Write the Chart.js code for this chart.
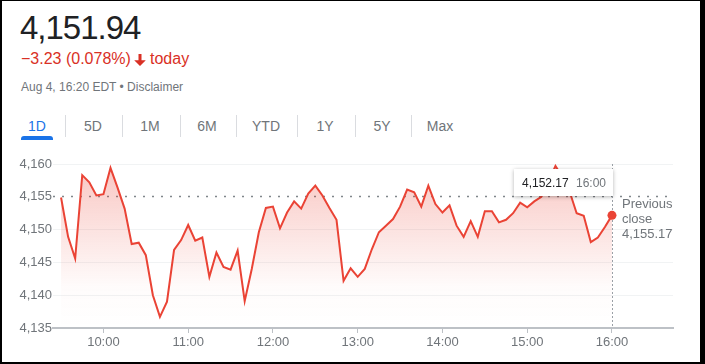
<!DOCTYPE html>
<html>
<head>
<meta charset="utf-8">
<script src="https://cdn.jsdelivr.net/npm/chart.js@4"></script>
<style>
  body { margin: 0; background: #fff; font-family: Arial, "Liberation Sans", sans-serif; }
  #frame { position: absolute; left: 0; top: 0; width: 705px; height: 364px; box-sizing: border-box;
           border: solid #000; border-width: 1px 5px 2px 2px; pointer-events: none; z-index: 5; }
  .abs { position: absolute; white-space: nowrap; line-height: 1; }
  #price { left: 20px; top: 11px; font-size: 33px; letter-spacing: -1px; color: #202124; }
  .chg { top: 51px; font-size: 16px; color: #d93025; }
  #stamp { left: 21px; top: 81px; font-size: 12px; color: #70757a; }
  .tab { position: absolute; top: 119px; font-size: 14px; line-height: 1; color: #70757a; transform: translateX(-50%); }
  .sep { position: absolute; top: 115px; width: 1px; height: 22px; background: #dadce0; }
  #underline { position: absolute; left: 21px; top: 136px; width: 32px; height: 4px; background: #1a73e8; border-radius: 3px 3px 0 0; }
  #chart { position: absolute; left: 0; top: 150px; }
</style>
</head>
<body>
<div id="frame"></div>

<div id="price" class="abs">4,151.94</div>
<div class="abs chg" style="left:21px">−3.23 (0.078%)</div>
<svg class="abs" style="left:134px;top:54px" width="12" height="12" viewBox="0 0 12 12">
  <path d="M4.5 0h3v6.2h4.3L6 12 0.2 6.2h4.3z" fill="#d93025"/>
</svg>
<div class="abs chg" style="left:150px">today</div>
<div id="stamp" class="abs">Aug 4, 16:20 EDT • Disclaimer</div>

<div class="tab" style="left:37px;color:#1a73e8">1D</div>
<div class="tab" style="left:93px">5D</div>
<div class="tab" style="left:150px">1M</div>
<div class="tab" style="left:207px">6M</div>
<div class="tab" style="left:266px">YTD</div>
<div class="tab" style="left:325px">1Y</div>
<div class="tab" style="left:382px">5Y</div>
<div class="tab" style="left:440px">Max</div>
<div class="sep" style="left:65px"></div>
<div class="sep" style="left:122px"></div>
<div class="sep" style="left:180px"></div>
<div class="sep" style="left:236px"></div>
<div class="sep" style="left:297px"></div>
<div class="sep" style="left:355px"></div>
<div class="sep" style="left:411px"></div>
<div id="underline"></div>

<canvas id="chart" width="700" height="212"></canvas>

<script>
// 5-minute closes for the session
const times = [
  "9:30", "9:35", "9:40", "9:45", "9:50", "9:55",
  "10:00", "10:05", "10:10", "10:15", "10:20", "10:25", "10:30", "10:35", "10:40", "10:45", "10:50", "10:55",
  "11:00", "11:05", "11:10", "11:15", "11:20", "11:25", "11:30", "11:35", "11:40", "11:45", "11:50", "11:55",
  "12:00", "12:05", "12:10", "12:15", "12:20", "12:25", "12:30", "12:35", "12:40", "12:45", "12:50", "12:55",
  "13:00", "13:05", "13:10", "13:15", "13:20", "13:25", "13:30", "13:35", "13:40", "13:45", "13:50", "13:55",
  "14:00", "14:05", "14:10", "14:15", "14:20", "14:25", "14:30", "14:35", "14:40", "14:45", "14:50", "14:55",
  "15:00", "15:05", "15:10", "15:15", "15:20", "15:25", "15:30", "15:35", "15:40", "15:45", "15:50", "15:55",
  "16:00"
];
const prices = [
  4154.9, 4148.9, 4145.6, 4158.3, 4157.2, 4155.2, 4155.4, 4159.4, 4156.4, 4153.2,
  4147.8, 4148.0, 4146.1, 4140.0, 4136.7, 4139.0, 4146.9, 4148.4, 4150.7, 4148.3,
  4148.8, 4142.8, 4146.5, 4144.3, 4143.9, 4146.8, 4139.1, 4144.0, 4149.6, 4153.3,
  4153.5, 4150.2, 4152.6, 4154.3, 4153.2, 4155.5, 4156.7, 4155.2, 4153.3, 4151.5,
  4142.2, 4144.1, 4142.8, 4144.0, 4147.0, 4149.6, 4150.6, 4151.6, 4153.5, 4156.1,
  4155.7, 4153.5, 4156.7, 4153.9, 4152.6, 4153.7, 4150.6, 4148.9, 4151.3, 4148.9,
  4152.8, 4152.8, 4151.1, 4151.5, 4152.5, 4154.1, 4153.4, 4154.3, 4155.0, 4157.3,
  4159.7, 4158.0, 4155.8, 4152.5, 4152.1, 4148.1, 4148.8, 4150.4, 4152.17
];
const prevClose = 4155.17;
const xTickLabels = ["10:00", "11:00", "12:00", "13:00", "14:00", "15:00", "16:00"];
const yTicks = [4135, 4140, 4145, 4150, 4155, 4160];

const RED = "#ea4335";

function toMin(t) {
  const [h, m] = t.split(":").map(Number);
  return h * 60 + m;
}
function fmtMin(v) {
  return Math.floor(v / 60) + ":" + String(v % 60).padStart(2, "0");
}

const points = times.map((t, i) => ({ x: toMin(t), y: prices[i] }));
const last = prices.length - 1;

// dotted previous-close line, 16:00 cursor, tooltip and label
const overlay = {
  id: "overlay",
  beforeDatasetsDraw(chart) {
    const { ctx, chartArea: a, scales: { y } } = chart;
    const yPc = Math.round(y.getPixelForValue(prevClose)) + 0.5;
    const pt = chart.getDatasetMeta(0).data[last];
    ctx.save();
    ctx.strokeStyle = "#80868b";
    ctx.lineWidth = 1.5;
    ctx.setLineDash([2, 7]);
    ctx.beginPath();
    ctx.moveTo(a.left, yPc);
    ctx.lineTo(a.right, yPc);
    ctx.stroke();

    const lx = Math.round(pt.x) + 0.5;
    ctx.strokeStyle = "#9aa0a6";
    ctx.lineWidth = 1;
    ctx.setLineDash([2, 2]);
    ctx.beginPath();
    ctx.moveTo(lx, a.top);
    ctx.lineTo(lx, a.bottom);
    ctx.stroke();
    ctx.restore();
  },
  afterDraw(chart) {
    const { ctx, chartArea: a, scales: { y } } = chart;
    const yPc = y.getPixelForValue(prevClose);
    const pt = chart.getDatasetMeta(0).data[last];
    ctx.save();
    ctx.font = "13px Arial, 'Liberation Sans', sans-serif";
    ctx.fillStyle = "#70757a";
    ctx.textBaseline = "alphabetic";
    ctx.fillText("Previous", pt.x + 10, yPc + 12);
    ctx.fillText("close", pt.x + 10, yPc + 27);
    ctx.fillText(prevClose.toLocaleString("en-US", { minimumFractionDigits: 2 }), pt.x + 10, yPc + 42);

    // tooltip box
    const bx = Math.round(pt.x) - 98, by = a.top + 5;
    ctx.shadowColor = "rgba(0,0,0,0.3)";
    ctx.shadowBlur = 4;
    ctx.shadowOffsetY = 1;
    ctx.fillStyle = "#fff";
    ctx.fillRect(bx, by, 99, 27);
    ctx.shadowColor = "transparent";
    ctx.font = "12px Arial, 'Liberation Sans', sans-serif";
    ctx.fillStyle = "#202124";
    ctx.fillText(prices[last].toLocaleString("en-US", { minimumFractionDigits: 2 }), bx + 8, by + 18);
    ctx.fillStyle = "#70757a";
    ctx.fillText(times[last], bx + 62, by + 18);
    ctx.restore();
  }
};

new Chart(document.getElementById("chart").getContext("2d"), {
  type: "line",
  data: {
    datasets: [
      {
        data: points,
        borderColor: RED,
        borderWidth: 2,
        tension: 0,
        fill: "start",
        backgroundColor: (c) => {
          const a = c.chart.chartArea;
          if (!a) return "rgba(234,67,53,0.2)";
          const g = c.chart.ctx.createLinearGradient(0, a.top, 0, a.bottom);
          g.addColorStop(0, "rgba(234,67,53,0.30)");
          g.addColorStop(0.75, "rgba(234,67,53,0.02)");
          g.addColorStop(1, "rgba(234,67,53,0)");
          return g;
        },
        pointRadius: (c) => (c.dataIndex === last ? 4.5 : 0),
        pointBackgroundColor: RED,
        pointBorderWidth: 0
      }
    ]
  },
  options: {
    responsive: false,
    animation: false,
    devicePixelRatio: 1,
    layout: { padding: { top: 14, right: 27, left: 0, bottom: 0 } },
    plugins: { legend: { display: false }, tooltip: { enabled: false } },
    scales: {
      x: {
        type: "linear",
        min: 564.3,
        max: 1003.2,
        afterBuildTicks: (s) => { s.ticks = xTickLabels.map((t) => ({ value: toMin(t) })); },
        afterFit: (s) => { s.height = 34; },
        ticks: {
          callback: (v) => fmtMin(v),
          color: "#70757a",
          font: { size: 13, family: "Arial, 'Liberation Sans', sans-serif" },
          padding: 2,
          maxRotation: 0
        },
        grid: { drawOnChartArea: false, drawTicks: true, tickLength: 5, color: "#bdc1c6" },
        border: { color: "#bdc1c6", width: 2 }
      },
      y: {
        min: yTicks[0],
        max: yTicks[yTicks.length - 1],
        afterBuildTicks: (s) => { s.ticks = yTicks.map((v) => ({ value: v })); },
        afterFit: (s) => { s.width = 53; },
        ticks: {
          callback: (v) => v.toLocaleString("en-US"),
          color: "#70757a",
          font: { size: 13, family: "Arial, 'Liberation Sans', sans-serif" },
          padding: 1
        },
        grid: {
          drawTicks: false,
          color: (c) => (c.tick && (c.tick.value === 4155 || c.tick.value === 4135) ? "rgba(0,0,0,0)" : "#f1f3f4")
        },
        border: { display: false }
      }
    }
  },
  plugins: [overlay]
});
</script>
</body>
</html>
